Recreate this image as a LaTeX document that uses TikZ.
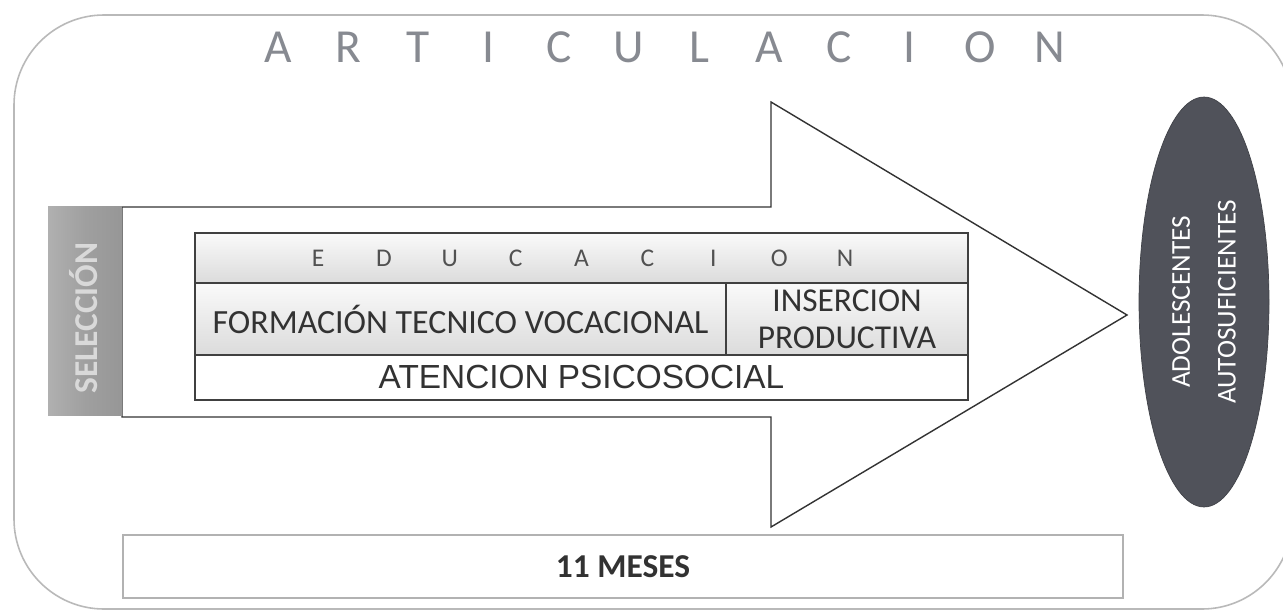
\documentclass[tikz,border=0pt]{standalone}
\usepackage{fontspec}
\setmainfont{Carlito}
\newfontfamily\arialf{Liberation Sans}
\usetikzlibrary{shapes.geometric}
\definecolor{titlegray}{RGB}{135,138,145}
\definecolor{ellfill}{RGB}{80,82,90}
\definecolor{txtdark}{RGB}{50,50,50}
\tikzset{
  outerframe/.style={draw=gray!55, line width=0.9pt, rounded corners=1.8cm},
  bigarrow/.style={draw=black!80, fill=white, line width=0.8pt, line join=miter},
  titleletter/.style={text=titlegray, font=\fontsize{27}{30}\selectfont, inner sep=0pt},
  eduletter/.style={text=txtdark!85, font=\fontsize{14.5}{16}\selectfont, inner sep=0pt},
  cell/.style={draw=gray!50!black, line width=0.7pt, inner sep=0pt, outer sep=0pt, text=txtdark},
  shadedcell/.style={cell, top color=gray!4, bottom color=gray!28},
  selbox/.style={draw=none, inner sep=0pt, left color=gray!62, right color=gray!82, middle color=gray!75},
  ellnode/.style={ellipse, fill=ellfill, draw=ellfill!80!black, inner sep=0pt},
  mesesbox/.style={draw=gray!60, line width=0.9pt, fill=white, inner sep=0pt},
}
\begin{document}
\begin{tikzpicture}[x=0.02cm, y=-0.02cm]
\useasboundingbox (0,0) rectangle (1283,612);
\fill[white] (0,0) rectangle (1283,612);
% outer frame
\begin{scope}
\clip (0,0) rectangle (1283,612);
\draw[outerframe] (14,15) rectangle (1292,609);
\end{scope}
% title
\foreach \l [count=\i from 0] in {A,R,T,I,C,U,L,A,C,I,O,N}
  \node[titleletter] (title\i) at ({278+70.2*\i},47) {\l};
% big arrow
\draw[bigarrow] (122,207) -- (771,207) -- (771,102) -- (1127,315) -- (771,527) -- (771,417) -- (122,417) -- cycle;
% seleccion
\node[selbox, minimum width=1.48cm, minimum height=4.18cm] (sel) at (85,311) {};
\node[rotate=90, text=gray!30, font=\bfseries\fontsize{19}{22}\selectfont, inner sep=0pt] (seltext) at (84,318) {SELECCIÓN};
% table
\node[shadedcell, minimum width=15.46cm, minimum height=1.0cm] (edu) at (581.5,258) {};
\foreach \l [count=\i from 0] in {E,D,U,C,A,C,I,O,N}
  \node[eduletter] (edu\i) at ({318+65.9*\i},258) {\l};
\node[shadedcell, minimum width=10.62cm, minimum height=1.44cm, font=\fontsize{19.3}{22}\selectfont] (ftv) at (460.5,319) {FORMACIÓN TECNICO VOCACIONAL};
\node[shadedcell, minimum width=4.84cm, minimum height=1.44cm, align=center, font=\fontsize{19}{21}\selectfont] (ins) at (847,319) {INSERCION\\PRODUCTIVA};
\node[cell, fill=white, minimum width=15.46cm, minimum height=0.9cm, font=\arialf\fontsize{19}{21}\selectfont] (aps) at (581.5,377.5) {ATENCION PSICOSOCIAL};
% ellipse
\node[ellnode, rotate=90, minimum width=8.2cm, minimum height=2.6cm, text=white, align=center, font=\fontsize{15.5}{26}\selectfont] (adol) at (1204,302) {ADOLESCENTES\\AUTOSUFICIENTES};
% 11 meses
\node[mesesbox, minimum width=20cm, minimum height=1.26cm, font=\bfseries\fontsize{19}{22}\selectfont, text=txtdark] (meses) at (623,566.5) {11 MESES};
\end{tikzpicture}
\end{document}
